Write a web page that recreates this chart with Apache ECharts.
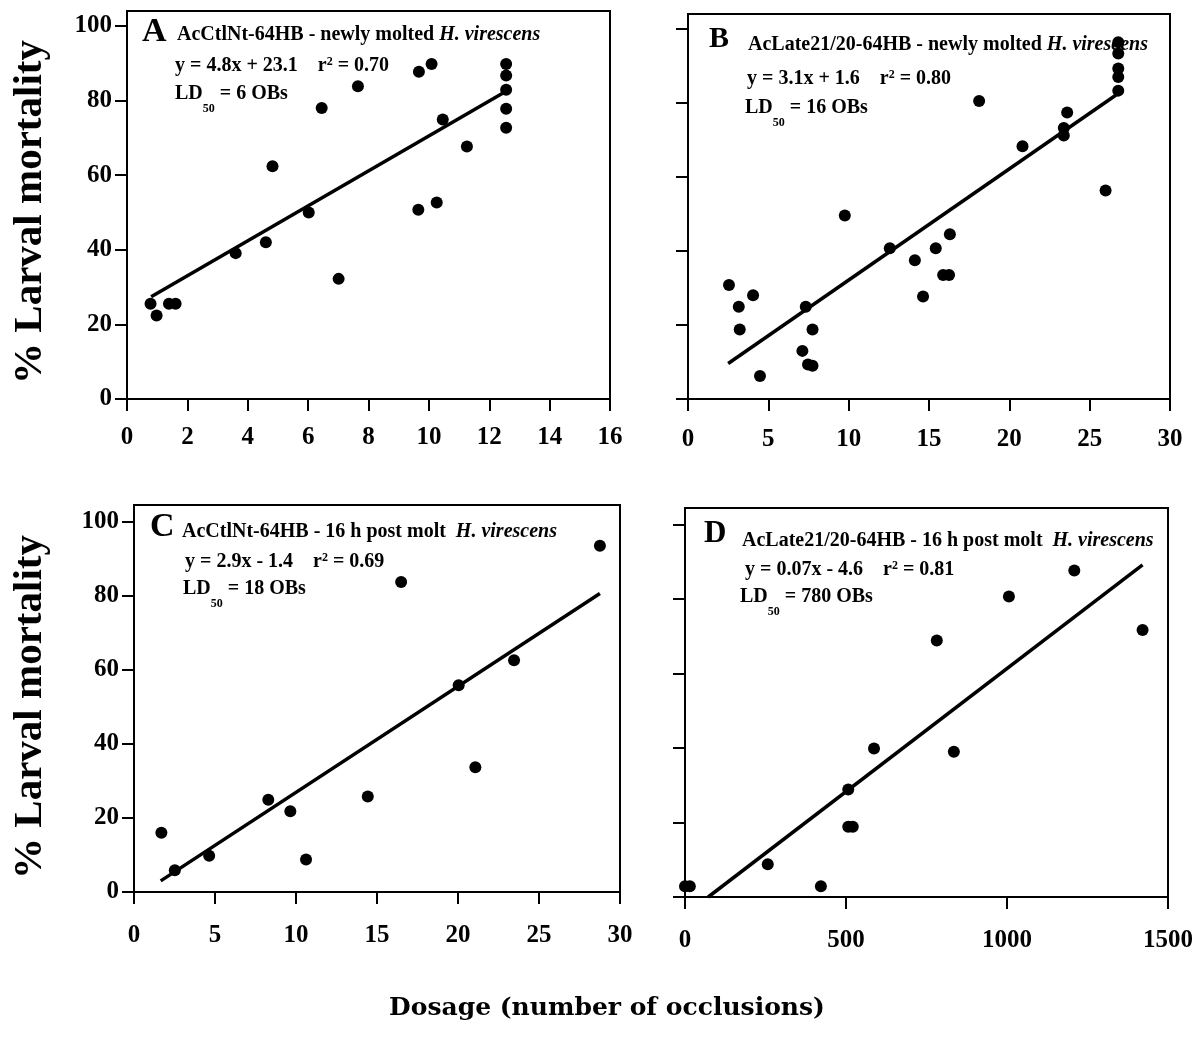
<!DOCTYPE html>
<html>
<head>
<meta charset="utf-8">
<script src="https://cdn.jsdelivr.net/npm/echarts@6/dist/echarts.min.js"></script>
<style>
html,body{margin:0;padding:0;background:#fff;}
#chart{width:1204px;height:1040px;}
</style>
</head>
<body>
<div id="chart"></div>
<script>
// ---- Data ----
// Panel A: AcCtlNt-64HB - newly molted
const aX = [0.78, 0.98, 1.39, 1.61, 3.6, 4.6, 4.82, 6.02, 6.45, 7.01, 7.65, 9.67, 10.09, 9.65, 10.26, 10.46, 11.26, 12.56, 12.56, 12.56, 12.56, 12.56];
const aY = [25.5, 22.4, 25.5, 25.5, 39.1, 42.0, 62.4, 50.0, 78.0, 32.2, 83.8, 87.7, 89.8, 50.7, 52.7, 74.9, 67.7, 89.8, 86.7, 82.9, 77.8, 72.7];
const aFitX = [0.8, 12.6];
const aFitY = [27.4, 82.7];

// Panel B: AcLate21/20-64HB - newly molted
const bX = [2.55, 3.16, 3.22, 4.05, 4.48, 7.12, 7.33, 7.47, 7.75, 7.75, 9.76, 12.56, 14.12, 14.63, 15.42, 15.88, 16.25, 16.3, 18.12, 20.82, 23.39, 23.39, 23.6, 25.99, 26.78, 26.78, 26.78, 26.78, 26.78];
const bY = [30.8, 24.9, 18.8, 28.0, 6.2, 13.0, 24.9, 9.3, 9.0, 18.8, 49.6, 40.7, 37.5, 27.7, 40.7, 33.5, 33.5, 44.5, 80.5, 68.3, 73.2, 71.2, 77.4, 56.3, 96.4, 93.3, 89.3, 87.0, 83.3];
const bFitX = [2.5, 26.8];
const bFitY = [9.6, 82.6];

// Panel C: AcCtlNt-64HB - 16 h post molt
const cX = [1.69, 2.52, 4.64, 8.29, 9.65, 10.62, 14.43, 16.49, 20.04, 21.07, 23.46, 28.76];
const cY = [16.0, 5.9, 9.8, 24.9, 21.8, 8.8, 25.8, 83.7, 55.8, 33.7, 62.6, 93.5];
const cFitX = [1.65, 28.76];
const cFitY = [3.0, 80.6];

// Panel D: AcLate21/20-64HB - 16 h post molt
const dX = [0, 15, 257, 422, 507, 507, 521, 587, 782, 835, 1006, 1209, 1421];
const dY = [2.9, 2.9, 8.8, 2.9, 28.9, 18.9, 18.9, 39.9, 68.9, 39.0, 80.7, 87.7, 71.7];
const dFitX = [72, 1421];
const dFitY = [0, 89.2];

// Axis ticks
const yTicks = [0, 20, 40, 60, 80, 100];
const xTicksA = [0, 2, 4, 6, 8, 10, 12, 14, 16];
const xTicksBC = [0, 5, 10, 15, 20, 25, 30];
const xTicksD = [0, 500, 1000, 1500];

// Texts
const yTitle = '% Larval mortality';
const xTitle = 'Dosage (number of occlusions)';
const panelLetters = ['A', 'B', 'C', 'D'];
const panelTitles = ['AcCtlNt-64HB - newly molted ', 'AcLate21/20-64HB - newly molted ', 'AcCtlNt-64HB - 16 h post molt  ', 'AcLate21/20-64HB - 16 h post molt  '];
const speciesName = 'H. virescens';
const eqLeft = ['y = 4.8x + 23.1', 'y = 3.1x + 1.6', 'y = 2.9x - 1.4', 'y = 0.07x - 4.6'];
const r2Vals = ['0.70', '0.80', '0.69', '0.81'];
const ld50Vals = ['6', '16', '18', '780'];

// ---- Build ----
const SERIF = '"Liberation Serif", "Times New Roman", serif';
const zip = (xs, ys) => xs.map((x, i) => [x, ys[i]]);

const grids = [
  {left: 127, top: 11, width: 483, height: 388},
  {left: 688, top: 14, width: 482, height: 385},
  {left: 134, top: 505, width: 486, height: 387},
  {left: 685, top: 508, width: 483, height: 389}
].map(g => Object.assign(g, {show: true, borderColor: '#000', borderWidth: 2, backgroundColor: 'transparent', containLabel: false}));

const xCfg = [
  {min: 0, max: 16, interval: 2, ticks: xTicksA, margin: 26},
  {min: 0, max: 30, interval: 5, ticks: xTicksBC, margin: 28},
  {min: 0, max: 30, interval: 5, ticks: xTicksBC, margin: 31},
  {min: 0, max: 1500, interval: 500, ticks: xTicksD, margin: 31}
];
const yMax = [104, 104, 104.5, 104.5];
const yShowLabel = [true, false, true, false];

const axisLineStyle = {color: '#000', width: 2};
const xAxes = xCfg.map((c, i) => ({
  type: 'value', gridIndex: i, min: c.min, max: c.max, interval: c.interval,
  axisLine: {show: true, onZero: false, lineStyle: axisLineStyle},
  axisTick: {show: true, inside: false, length: 12, lineStyle: axisLineStyle, customValues: c.ticks},
  axisLabel: {show: true, margin: c.margin, color: '#000', fontFamily: SERIF, fontWeight: 'bold', fontSize: 25, customValues: c.ticks,
    formatter: v => String(v)},
  splitLine: {show: false}
}));
const yAxes = yMax.map((m, i) => ({
  type: 'value', gridIndex: i, min: 0, max: m, interval: 20,
  axisLine: {show: true, onZero: false, lineStyle: axisLineStyle},
  axisTick: {show: true, inside: false, length: 12, lineStyle: axisLineStyle, customValues: yTicks},
  axisLabel: {show: yShowLabel[i], margin: 15, color: '#000', fontFamily: SERIF, fontWeight: 'bold', fontSize: 25, customValues: yTicks,
    formatter: v => (v % 20 === 0 ? String(v) : '')},
  splitLine: {show: false}
}));

const pts = [zip(aX, aY), zip(bX, bY), zip(cX, cY), zip(dX, dY)];
const fits = [zip(aFitX, aFitY), zip(bFitX, bFitY), zip(cFitX, cFitY), zip(dFitX, dFitY)];
const series = [];
for (let i = 0; i < 4; i++) {
  series.push({type: 'line', xAxisIndex: i, yAxisIndex: i, data: fits[i], showSymbol: false, symbol: 'none',
    lineStyle: {color: '#000', width: 3.5, opacity: 1}, z: 2, silent: true, clip: false});
  series.push({type: 'scatter', xAxisIndex: i, yAxisIndex: i, data: pts[i], symbol: 'circle', symbolSize: 12,
    itemStyle: {color: '#000', opacity: 1}, z: 3, clip: false});
}

// Annotation text layout (pixel positions of the text blocks)
const letterPos = [[142, 32, 34], [709, 39, 30], [150, 527, 34], [704, 534, 31]];
const linePos = [
  [[177, 36], [175, 67], [175, 95]],
  [[748, 46], [747, 80], [745, 109]],
  [[182, 533], [185, 563], [183, 590]],
  [[742, 542], [745, 571], [740, 598]]
];
const FS = 20;
const baseTok = {fontFamily: SERIF, fontWeight: 'bold', fontSize: FS, lineHeight: 22, verticalAlign: 'top', color: '#000'};
const rich = {
  t: baseTok,
  i: Object.assign({}, baseTok, {fontStyle: 'italic'}),
  p: Object.assign({}, baseTok, {fontSize: 12, lineHeight: 12, verticalAlign: 'top'}),
  s: Object.assign({}, baseTok, {fontSize: 12, lineHeight: 31, verticalAlign: 'bottom'})
};

const graphics = [];
for (let i = 0; i < 4; i++) {
  const lp = letterPos[i];
  graphics.push({type: 'text', x: lp[0], y: lp[1], silent: true,
    style: {text: panelLetters[i], font: 'bold ' + lp[2] + 'px ' + SERIF, fill: '#000', align: 'left', verticalAlign: 'middle'}});
  const L = linePos[i];
  graphics.push({type: 'text', x: L[0][0], y: L[0][1] - 11, silent: true,
    style: {text: '{t|' + panelTitles[i] + '}{i|' + speciesName + '}', rich: rich, fill: '#000', align: 'left', verticalAlign: 'top'}});
  graphics.push({type: 'text', x: L[1][0], y: L[1][1] - 11, silent: true,
    style: {text: '{t|' + eqLeft[i] + '    r}{p|2}{t| = ' + r2Vals[i] + '}', rich: rich, fill: '#000', align: 'left', verticalAlign: 'top'}});
  graphics.push({type: 'text', x: L[2][0], y: L[2][1] - 11, silent: true,
    style: {text: '{t|LD}{s|50}{t| = ' + ld50Vals[i] + ' OBs}', rich: rich, fill: '#000', align: 'left', verticalAlign: 'top'}});
}
// Axis titles
[212, 707].forEach(cy => {
  graphics.push({type: 'text', x: 30, y: cy, rotation: Math.PI / 2, silent: true,
    style: {text: yTitle, font: 'bold 41px ' + SERIF, fill: '#000', align: 'center', verticalAlign: 'middle'}});
});
graphics.push({type: 'text', x: 607, y: 1008, silent: true,
  style: {text: xTitle, font: 'bold 25px "DejaVu Serif", serif', fill: '#000', align: 'center', verticalAlign: 'middle'}});

const chart = echarts.init(document.getElementById('chart'), null, {renderer: 'canvas'});
chart.setOption({
  animation: false,
  backgroundColor: '#fff',
  grid: grids,
  xAxis: xAxes,
  yAxis: yAxes,
  series: series,
  graphic: graphics
});
</script>
</body>
</html>
